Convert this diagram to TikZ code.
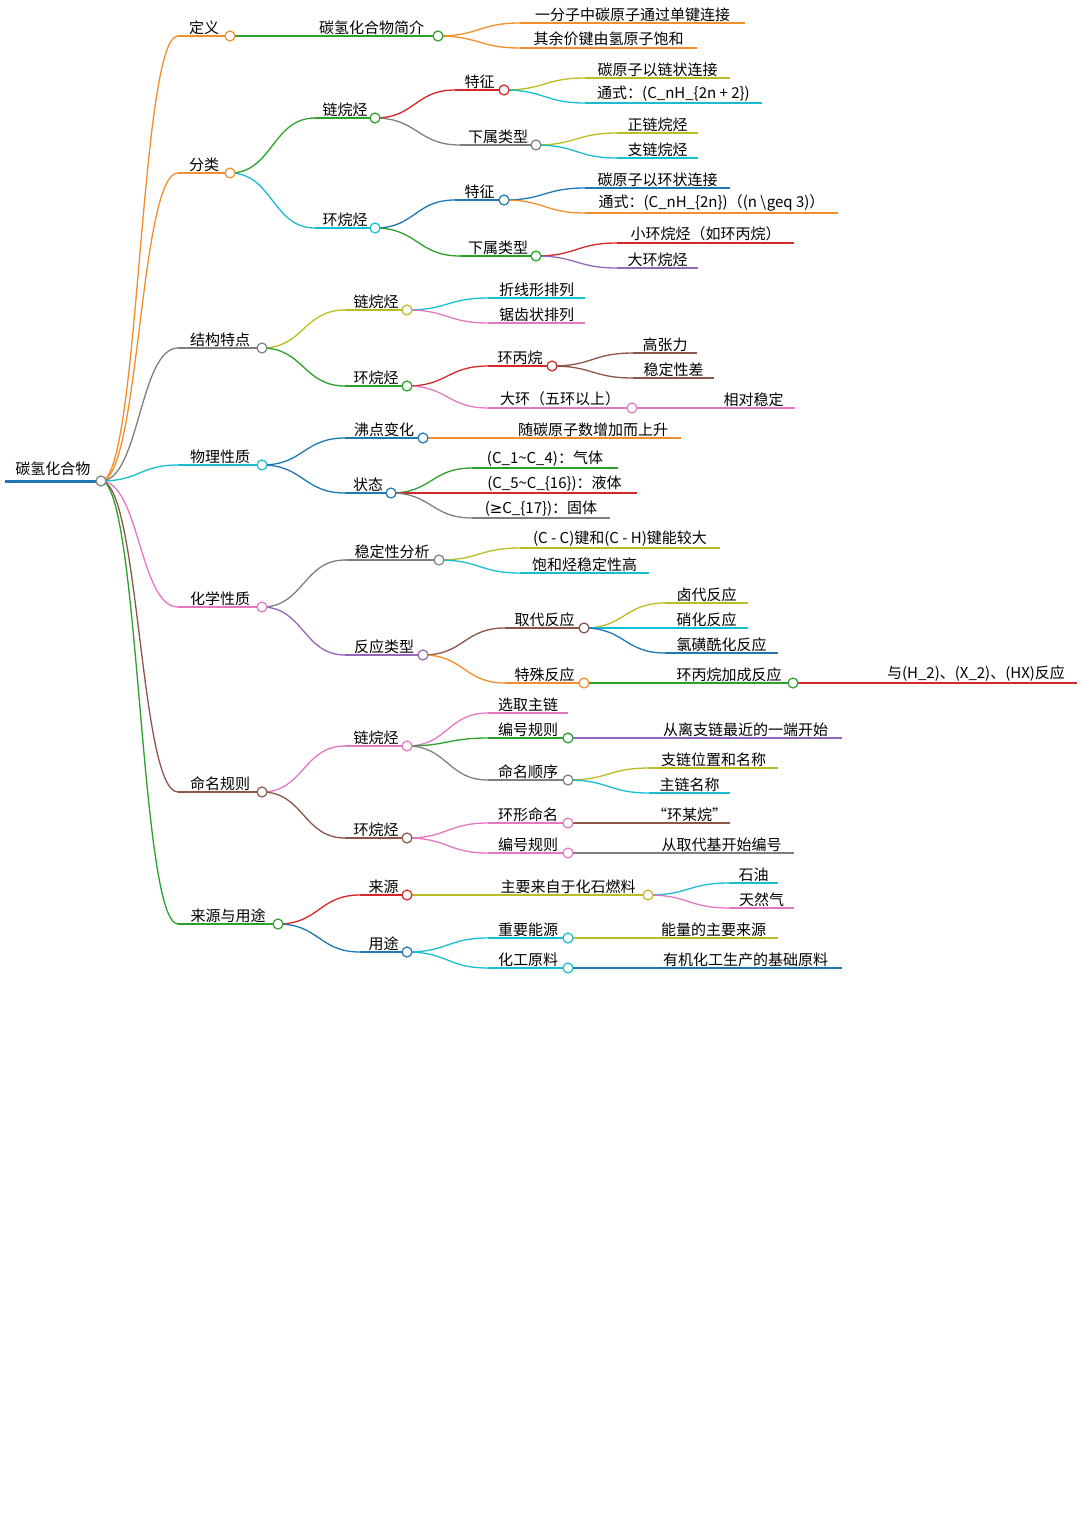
\documentclass[tikz,border=0pt]{standalone}
\usepackage{fontspec}
\setmainfont{Noto Sans CJK SC}
\newfontfamily\djv{DejaVu Sans}
\usetikzlibrary{calc}
\definecolor{co}{HTML}{F28E2B}
\definecolor{cg}{HTML}{2CA02C}
\definecolor{cr}{HTML}{D62728}
\definecolor{cgr}{HTML}{7F7F7F}
\definecolor{cc}{HTML}{17BECF}
\definecolor{cy}{HTML}{BCBD22}
\definecolor{cb}{HTML}{1F77B4}
\definecolor{cp}{HTML}{9467BD}
\definecolor{cpk}{HTML}{E377C2}
\definecolor{cbr}{HTML}{8C564B}
\newcommand\mm[6]{%
  \coordinate (#1-s) at (#2,#4); \coordinate (#1-e) at (#3,#4);
  \draw[#5,line width=1.3] (#1-s) -- (#1-e);
  \node[anchor=south,inner sep=1.5pt,font=\fontsize{15}{17}\selectfont] (#1) at ($(#1-s)!.5!(#1-e)$) {#6};}
\newcommand\ed[3]{\draw[#3,line width=1.3] let \p1=(#1-e), \p2=(#2-s), \n1={(\x2-\x1)/2} in (\p1) .. controls (\x1+\n1,\y1) and (\x2-\n1,\y2) .. (\p2);}
\newcommand\cir[2]{\draw[#2,line width=1.2,fill=white] (#1-e) circle (5);}
\begin{document}
\begin{tikzpicture}[x=1pt,y=-1pt]
\useasboundingbox (0,0) rectangle (1083,1519);
\coordinate (r-s) at (5,481); \coordinate (r-e) at (101,481);
\draw[cb,line width=3] (r-s) -- (r-e);
\node[anchor=south,font=\fontsize{15}{17}\selectfont] (r) at (53,479) {碳氢化合物};
% level 1
\mm{a}{178}{230}{36}{co}{定义}
\mm{b}{178}{230}{173}{co}{分类}
\mm{c}{178}{262}{348}{cgr}{结构特点}
\mm{d}{178}{262}{465}{cc}{物理性质}
\mm{e}{178}{262}{607}{cpk}{化学性质}
\mm{f}{178}{262}{792}{cbr}{命名规则}
\mm{g}{178}{278}{924}{cg}{来源与用途}
% a
\mm{a1}{305}{438}{36}{cg}{碳氢化合物简介}
\mm{a11}{520}{745}{23}{co}{一分子中碳原子通过单键连接}
\mm{a12}{520}{697}{48}{co}{其余价键由氢原子饱和}
% b
\mm{b1}{315}{375}{118}{cg}{链烷烃}
\mm{b11}{455}{504}{90}{cr}{特征}
\mm{b111}{585}{730}{78}{cy}{碳原子以链状连接}
\mm{b112}{585}{762}{103}{cc}{通式：(C\_nH\_\{2n + 2\})}
\mm{b12}{460}{536}{145}{cgr}{下属类型}
\mm{b121}{617}{698}{133}{cy}{正链烷烃}
\mm{b122}{617}{698}{158}{cc}{支链烷烃}
\mm{b2}{315}{375}{228}{cc}{环烷烃}
\mm{b21}{455}{504}{200}{cb}{特征}
\mm{b211}{585}{730}{188}{cb}{碳原子以环状连接}
\mm{b212}{585}{838}{213}{co}{通式：(C\_nH\_\{2n\})（(n \textbackslash geq 3)）}
\mm{b22}{460}{536}{256}{cg}{下属类型}
\mm{b221}{617}{794}{243}{cr}{小环烷烃（如环丙烷）}
\mm{b222}{617}{698}{268}{cp}{大环烷烃}
% c
\mm{c1}{345}{407}{310}{cy}{链烷烃}
\mm{c11}{488}{585}{298}{cc}{折线形排列}
\mm{c12}{488}{585}{323}{cpk}{锯齿状排列}
\mm{c2}{345}{407}{386}{cg}{环烷烃}
\mm{c21}{488}{552}{366}{cr}{环丙烷}
\mm{c211}{633}{697}{353}{cbr}{高张力}
\mm{c212}{633}{714}{378}{cbr}{稳定性差}
\mm{c22}{488}{632}{408}{cpk}{大环（五环以上）}
\mm{c221}{712}{795}{408}{cpk}{相对稳定}
% d
\mm{d1}{345}{423}{438}{cb}{沸点变化}
\mm{d11}{505}{681}{438}{co}{随碳原子数增加而上升}
\mm{d2}{345}{391}{493}{cb}{状态}
\mm{d21}{472}{618}{468}{cg}{(C\_1\textasciitilde C\_4)：气体}
\mm{d22}{472}{637}{493}{cr}{(C\_5\textasciitilde C\_\{16\})：液体}
\mm{d23}{472}{610}{518}{cgr}{({\djv ≥}C\_\{17\})：固体}
% e
\mm{e1}{345}{439}{560}{cgr}{稳定性分析}
\mm{e11}{520}{720}{548}{cy}{(C - C)键和(C - H)键能较大}
\mm{e12}{520}{649}{573}{cc}{饱和烃稳定性高}
\mm{e2}{345}{423}{655}{cp}{反应类型}
\mm{e21}{505}{584}{628}{cbr}{取代反应}
\mm{e211}{665}{748}{603}{cy}{卤代反应}
\mm{e212}{665}{748}{628}{cc}{硝化反应}
\mm{e213}{665}{778}{653}{cb}{氯磺酰化反应}
\mm{e22}{505}{584}{683}{co}{特殊反应}
\mm{e221}{665}{793}{683}{cg}{环丙烷加成反应}
\mm{e2211}{875}{1077}{683}{cr}{与(H\_2)、(X\_2)、(HX)反应}
% f
\mm{f1}{345}{407}{746}{cpk}{链烷烃}
\mm{f11}{488}{568}{713}{cpk}{选取主链}
\mm{f12}{488}{568}{738}{cg}{编号规则}
\mm{f121}{649}{842}{738}{cp}{从离支链最近的一端开始}
\mm{f13}{488}{568}{780}{cgr}{命名顺序}
\mm{f131}{649}{778}{768}{cy}{支链位置和名称}
\mm{f132}{649}{730}{793}{cc}{主链名称}
\mm{f2}{345}{407}{838}{cbr}{环烷烃}
\mm{f21}{488}{568}{823}{cpk}{环形命名}
\mm{f211}{649}{730}{823}{cbr}{“环某烷”}
\mm{f22}{488}{568}{853}{cpk}{编号规则}
\mm{f221}{649}{794}{853}{cgr}{从取代基开始编号}
% g
\mm{g1}{360}{407}{895}{cr}{来源}
\mm{g11}{488}{648}{895}{cy}{主要来自于化石燃料}
\mm{g111}{729}{778}{883}{cc}{石油}
\mm{g112}{729}{794}{908}{cpk}{天然气}
\mm{g2}{360}{407}{952}{cb}{用途}
\mm{g21}{488}{568}{938}{cc}{重要能源}
\mm{g211}{649}{778}{938}{cy}{能量的主要来源}
\mm{g22}{488}{568}{968}{cc}{化工原料}
\mm{g221}{649}{842}{968}{cb}{有机化工生产的基础原料}
% edges
\ed{r}{a}{co}\ed{r}{b}{co}\ed{r}{c}{cgr}\ed{r}{d}{cc}\ed{r}{e}{cpk}\ed{r}{f}{cbr}\ed{r}{g}{cg}
\ed{a}{a1}{cg}\ed{a1}{a11}{co}\ed{a1}{a12}{co}
\ed{b}{b1}{cg}\ed{b1}{b11}{cr}\ed{b11}{b111}{cy}\ed{b11}{b112}{cc}
\ed{b1}{b12}{cgr}\ed{b12}{b121}{cy}\ed{b12}{b122}{cc}
\ed{b}{b2}{cc}\ed{b2}{b21}{cb}\ed{b21}{b211}{cb}\ed{b21}{b212}{co}
\ed{b2}{b22}{cg}\ed{b22}{b221}{cr}\ed{b22}{b222}{cp}
\ed{c}{c1}{cy}\ed{c1}{c11}{cc}\ed{c1}{c12}{cpk}
\ed{c}{c2}{cg}\ed{c2}{c21}{cr}\ed{c21}{c211}{cbr}\ed{c21}{c212}{cbr}
\ed{c2}{c22}{cpk}\ed{c22}{c221}{cpk}
\ed{d}{d1}{cb}\ed{d1}{d11}{co}\ed{d}{d2}{cb}\ed{d2}{d21}{cg}\ed{d2}{d22}{cr}\ed{d2}{d23}{cgr}
\ed{e}{e1}{cgr}\ed{e1}{e11}{cy}\ed{e1}{e12}{cc}
\ed{e}{e2}{cp}\ed{e2}{e21}{cbr}\ed{e21}{e211}{cy}\ed{e21}{e212}{cc}\ed{e21}{e213}{cb}
\ed{e2}{e22}{co}\ed{e22}{e221}{cg}\ed{e221}{e2211}{cr}
\ed{f}{f1}{cpk}\ed{f1}{f11}{cpk}\ed{f1}{f12}{cg}\ed{f12}{f121}{cp}
\ed{f1}{f13}{cgr}\ed{f13}{f131}{cy}\ed{f13}{f132}{cc}
\ed{f}{f2}{cbr}\ed{f2}{f21}{cpk}\ed{f21}{f211}{cbr}\ed{f2}{f22}{cpk}\ed{f22}{f221}{cgr}
\ed{g}{g1}{cr}\ed{g1}{g11}{cy}\ed{g11}{g111}{cc}\ed{g11}{g112}{cpk}
\ed{g}{g2}{cb}\ed{g2}{g21}{cc}\ed{g21}{g211}{cy}\ed{g2}{g22}{cc}\ed{g22}{g221}{cb}
% circles
\cir{r}{cgr}
\cir{a}{co}\cir{b}{co}\cir{c}{cgr}\cir{d}{cc}\cir{e}{cpk}\cir{f}{cbr}\cir{g}{cg}
\cir{a1}{cg}\cir{b1}{cg}\cir{b11}{cr}\cir{b12}{cgr}\cir{b2}{cc}\cir{b21}{cb}\cir{b22}{cg}
\cir{c1}{cy}\cir{c2}{cg}\cir{c21}{cr}\cir{c22}{cpk}
\cir{d1}{cb}\cir{d2}{cb}
\cir{e1}{cgr}\cir{e2}{cp}\cir{e21}{cbr}\cir{e22}{co}\cir{e221}{cg}
\cir{f1}{cpk}\cir{f12}{cg}\cir{f13}{cgr}\cir{f2}{cbr}\cir{f21}{cpk}\cir{f22}{cpk}
\cir{g1}{cr}\cir{g11}{cy}\cir{g2}{cb}\cir{g21}{cc}\cir{g22}{cc}
\end{tikzpicture}
\end{document}
